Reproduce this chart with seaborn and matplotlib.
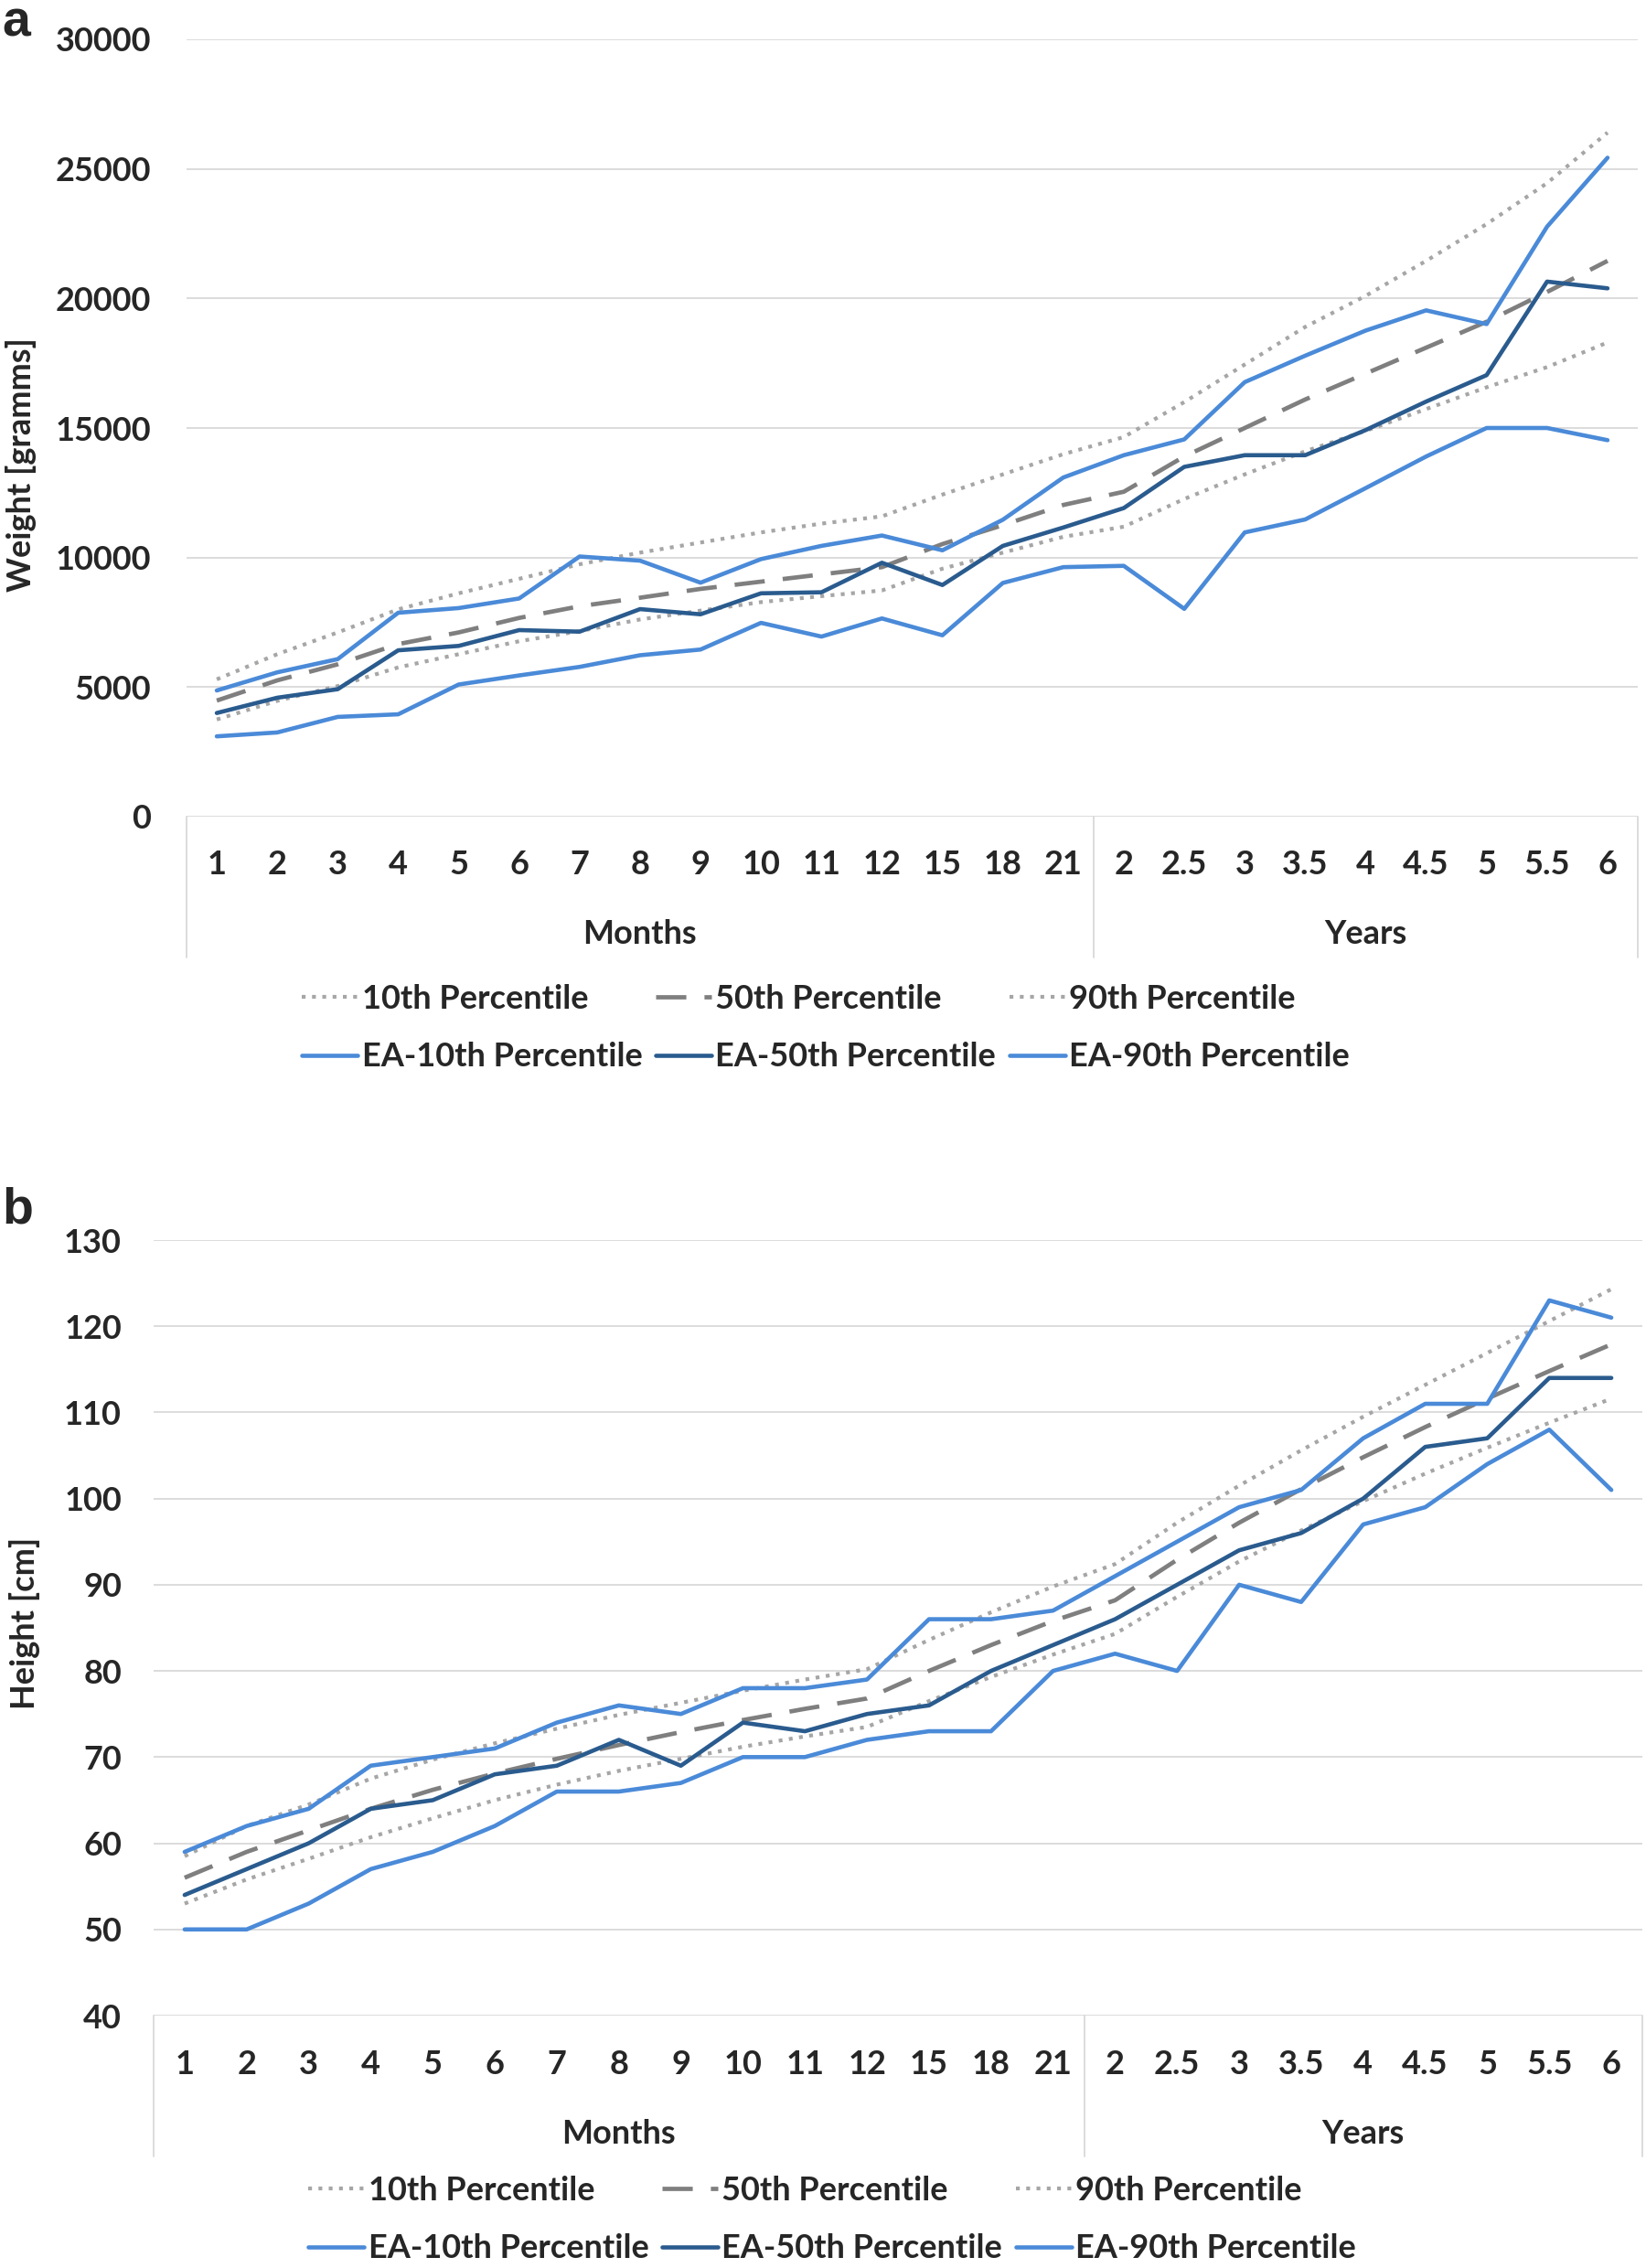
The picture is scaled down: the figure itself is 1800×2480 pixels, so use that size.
import matplotlib
matplotlib.use('Agg')
import matplotlib.pyplot as plt
import matplotlib.transforms as mtransforms
import seaborn as sns

# 横轴类别：月份 + 年龄
cats = ['1', '2', '3', '4', '5', '6', '7', '8', '9', '10', '11', '12', '15', '18', '21',
        '2', '2.5', '3', '3.5', '4', '4.5', '5', '5.5', '6']
n_months = 15

# 图a：体重 (g)
w_p10 = [3750, 4470, 5040, 5760, 6270, 6770, 7160, 7610, 7950, 8280, 8510, 8730, 9570, 10190,
         10800, 11190, 12260, 13210, 14100, 14890, 15730, 16570, 17350, 18300]
w_p50 = [4480, 5260, 5880, 6660, 7110, 7670, 8120, 8450, 8790, 9070, 9350, 9630, 10520, 11250,
         12030, 12540, 13900, 15000, 16100, 17100, 18100, 19100, 20250, 21450]
w_p90 = [5300, 6270, 7110, 8000, 8620, 9180, 9740, 10190, 10580, 10970, 11310, 11590, 12430, 13210,
         13990, 14650, 16000, 17450, 18900, 20100, 21450, 22870, 24450, 26400]
w_ea10 = [3100, 3250, 3850, 3950, 5100, 5450, 5780, 6230, 6450, 7480, 6950, 7650, 7000, 9020,
          9630, 9680, 8020, 10970, 11470, 12680, 13900, 15000, 15000, 14530]
w_ea50 = [4000, 4590, 4920, 6420, 6590, 7200, 7140, 8010, 7810, 8620, 8660, 9800, 8940, 10450,
          11160, 11910, 13500, 13950, 13950, 14920, 16020, 17040, 20650, 20390]
w_ea90 = [4870, 5570, 6080, 7870, 8050, 8420, 10040, 9880, 9030, 9940, 10450, 10850, 10280, 11460,
          13090, 13950, 14560, 16770, 17790, 18760, 19540, 19010, 22770, 25430]

# 图b：身高 (cm)
h_p10 = [53, 55.8, 58.2, 60.7, 62.9, 65, 66.8, 68.4, 69.8, 71.2, 72.4, 73.5, 76.5, 79.3,
         81.9, 84.3, 88.6, 92.7, 96.3, 99.7, 102.9, 105.9, 108.8, 111.6]
h_p50 = [56, 59, 61.5, 64, 66.2, 68.1, 69.8, 71.4, 72.9, 74.3, 75.6, 76.8, 80, 83,
         85.8, 88.2, 92.9, 97.2, 101.1, 104.8, 108.3, 111.6, 114.8, 117.9]
h_p90 = [58.5, 62, 64.5, 67.5, 69.7, 71.6, 73.3, 74.9, 76.3, 77.7, 79, 80.2, 83.6, 86.8,
         89.8, 92.4, 97.2, 101.5, 105.6, 109.5, 113.2, 116.9, 120.6, 124.3]
h_ea10 = [50, 50, 53, 57, 59, 62, 66, 66, 67, 70, 70, 72, 73, 73, 80, 82, 80, 90, 88, 97, 99, 104, 108, 101]
h_ea50 = [54, 57, 60, 64, 65, 68, 69, 72, 69, 74, 73, 75, 76, 80, 83, 86, 90, 94, 96, 100, 106, 107, 114, 114]
h_ea90 = [59, 62, 64, 69, 70, 71, 74, 76, 75, 78, 78, 79, 86, 86, 87, 91, 95, 99, 101, 107, 111, 111, 123, 121]

labels = ['10th Percentile', '50th Percentile', '90th Percentile',
          'EA-10th Percentile', 'EA-50th Percentile', 'EA-90th Percentile']

sns.set_style('white')
plt.rcParams['font.family'] = ['Lato', 'DejaVu Sans']
plt.rcParams['font.weight'] = 'bold'

W, H = 1800, 2480
FS = 26
light = '#4A8AD8'
dark = '#2A5B8E'
grid_c = '#D9D9D9'

# 线型：参考线为灰色虚线/点线，EA为实线
styles = [
    dict(color='#A6A6A6', linewidth=3.0, linestyle=(0, (1, 1.7))),
    dict(color='#7F7F7F', linewidth=3.4, linestyle=(0, (7, 4.2))),
    dict(color='#A6A6A6', linewidth=3.0, linestyle=(0, (1, 1.7))),
    dict(color=light, linewidth=3.3, linestyle='-'),
    dict(color=dark, linewidth=3.3, linestyle='-'),
    dict(color=light, linewidth=3.3, linestyle='-'),
]

fig = plt.figure(figsize=(W / 100, H / 100), dpi=100)


def draw_panel(left, right, top, bottom, series, ylim, ystep, ylabel, ylab_xy, tag, tag_y,
               cat_y, grp_y, box_y, ytick_pad, legend_xy):
    ax = fig.add_axes([left / W, 1 - bottom / H, (right - left) / W, (bottom - top) / H])
    x = list(range(len(cats)))
    for vals, lab, st in zip(series, labels, styles):
        sns.lineplot(x=x, y=vals, ax=ax, label=lab, legend=False, sort=False, **st)

    ax.set_xlim(-0.5, len(cats) - 0.5)
    ax.set_ylim(*ylim)
    ax.set_yticks(range(ylim[0], ylim[1] + 1, ystep))
    ax.yaxis.grid(True, color=grid_c, linewidth=1.3)
    ax.set_axisbelow(True)
    for s in ax.spines.values():
        s.set_visible(False)

    h_axes = bottom - top
    ax.set_xticks(x)
    ax.set_xticklabels(cats)
    ax.tick_params(axis='x', length=0, labelsize=FS, pad=(cat_y - bottom) * 0.72)
    for lbl in ax.get_xticklabels():
        lbl.set_va('center')
    ax.tick_params(axis='y', length=0, labelsize=FS, pad=ytick_pad * 0.72)
    ax.set_xlabel('')
    ax.set_ylabel('')

    # 多级分类轴的分隔框
    trans = mtransforms.blended_transform_factory(ax.transData, ax.transAxes)
    yb = -(box_y - bottom) / h_axes
    for xv in [-0.5, n_months - 0.5, len(cats) - 0.5]:
        ax.plot([xv, xv], [0, yb], transform=trans, clip_on=False, color=grid_c, lw=1.3)
    yg = -(grp_y - bottom) / h_axes
    ax.text((n_months - 1) / 2, yg, 'Months', transform=trans, ha='center', va='center', fontsize=FS)
    ax.text((n_months - 0.5 + len(cats) - 0.5) / 2, yg, 'Years', transform=trans,
            ha='center', va='center', fontsize=FS)

    fig.text(ylab_xy[0] / W, 1 - ylab_xy[1] / H, ylabel, rotation=90, ha='center', va='center',
             fontsize=FS)
    fig.text(2 / W, 1 - tag_y / H, tag, ha='left', va='top', fontsize=40,
             family=['Liberation Sans', 'DejaVu Sans'], weight='bold')

    handles = ax.get_lines()[:6]
    order = [0, 3, 1, 4, 2, 5]
    fig.legend([handles[i] for i in order], [labels[i] for i in order], loc='center',
               bbox_to_anchor=(legend_xy[0] / W, 1 - legend_xy[1] / H), ncol=3, frameon=False,
               handlelength=1.7, handletextpad=0.12, columnspacing=0.4, labelspacing=0.85,
               borderpad=0, fontsize=FS)
    return ax


draw_panel(204, 1791, 43, 893, [w_p10, w_p50, w_p90, w_ea10, w_ea50, w_ea90],
           (0, 30000), 5000, 'Weight [gramms]', (23, 508), 'a', 0,
           945, 1022, 1047, 39, (903, 1124))

draw_panel(168, 1796, 1356, 2204, [h_p10, h_p50, h_p90, h_ea10, h_ea50, h_ea90],
           (40, 130), 10, 'Height [cm]', (27, 1775), 'b', 1297,
           2257, 2333, 2358, 35, (910, 2427))

plt.savefig('out.png', dpi=100)
